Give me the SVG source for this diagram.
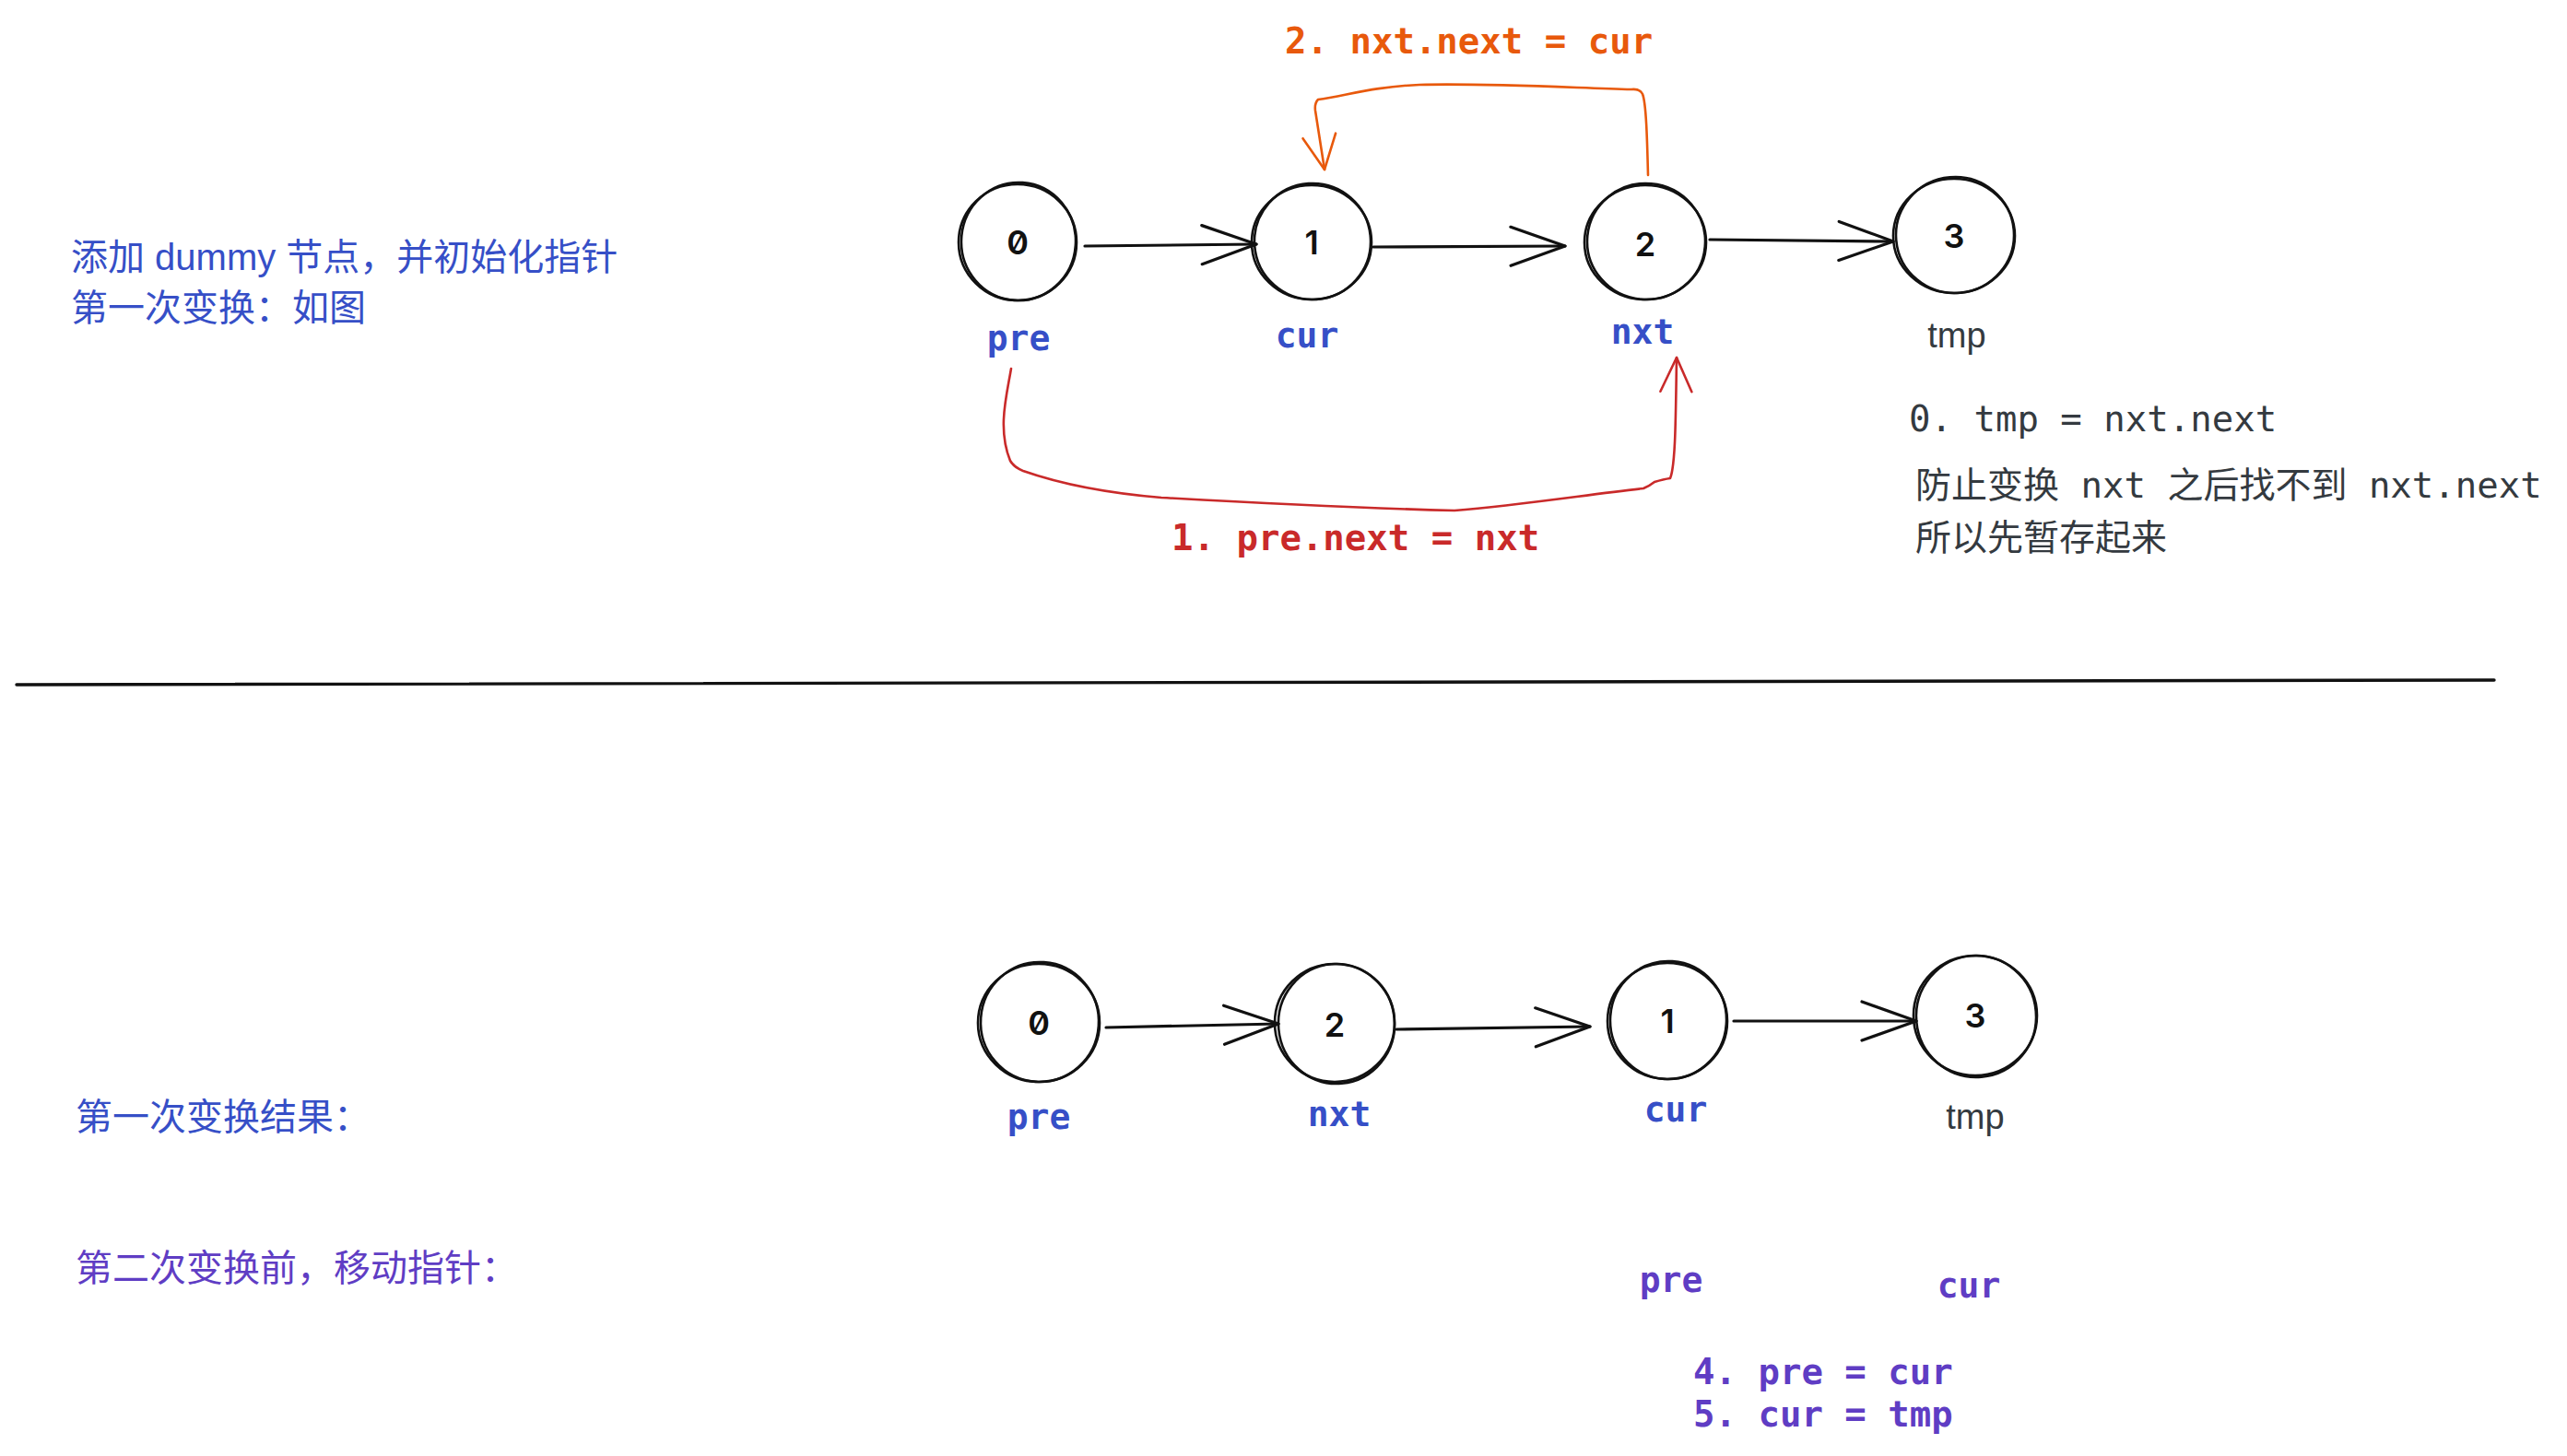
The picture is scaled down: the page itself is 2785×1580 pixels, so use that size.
<svg xmlns="http://www.w3.org/2000/svg" width="2785" height="1580" viewBox="0 0 2785 1580">
<defs>
<style>
.bg{fill:#ffffff}
.ring{fill:none;stroke:#111;stroke-width:2.6}
.digit{font-family:Inter,"Liberation Sans",sans-serif;font-size:36px;font-weight:600;fill:#111;text-anchor:middle;font-variant-numeric:slashed-zero;font-feature-settings:"zero"}
.mono{font-family:"DejaVu Sans Mono","Noto Sans CJK SC",monospace}
.sans{font-family:"Liberation Sans","Noto Sans CJK SC",sans-serif}
.b{font-weight:bold}
.lbl{font-size:38px;text-anchor:middle}
.blue{fill:#364fc7}
.violet{fill:#5f3dc4}
.gray{fill:#343a40}
.orange{fill:#e8590c}
.red{fill:#c92a2a}
.edge{fill:none;stroke:#111;stroke-width:3.2;stroke-linecap:round;marker-end:url(#headK)}
.edgeO{fill:none;stroke:#e8590c;stroke-width:2.6;stroke-linecap:round;stroke-linejoin:round;marker-end:url(#headO)}
.edgeR{fill:none;stroke:#c92a2a;stroke-width:2.6;stroke-linecap:round;stroke-linejoin:round;marker-end:url(#headR)}
</style>
<marker id="headK" markerUnits="userSpaceOnUse" viewBox="0 0 64 50" markerWidth="64" markerHeight="50" refX="61" refY="25" orient="auto">
<path d="M2,4 L61,25 L2,46" fill="none" stroke="#111" stroke-width="3.2" stroke-linecap="round" stroke-linejoin="round"/>
</marker>
<marker id="headO" markerUnits="userSpaceOnUse" viewBox="0 0 44 44" markerWidth="44" markerHeight="44" refX="40" refY="22" orient="auto">
<path d="M3,4 L40,22 L3,40" fill="none" stroke="#e8590c" stroke-width="2.6" stroke-linecap="round" stroke-linejoin="round"/>
</marker>
<marker id="headR" markerUnits="userSpaceOnUse" viewBox="0 0 44 44" markerWidth="44" markerHeight="44" refX="40" refY="22" orient="auto">
<path d="M3,5 L40,22 L3,39" fill="none" stroke="#c92a2a" stroke-width="2.6" stroke-linecap="round" stroke-linejoin="round"/>
</marker>
</defs>
<rect class="bg" x="0" y="0" width="2785" height="1580"/>

<g id="notes">
<text class="sans blue" x="77" y="293" font-size="40">添加 dummy 节点，并初始化指针</text>
<text class="sans blue" x="77" y="348" font-size="40">第一次变换：如图</text>
<text class="mono b orange" x="1394" y="58" font-size="39">2. nxt.next = cur</text>
<text class="mono b red" x="1271" y="597" font-size="39">1. pre.next = nxt</text>
<text class="mono gray" x="2071" y="468" font-size="39">0. tmp = nxt.next</text>
<text class="mono gray" x="2078" y="540" font-size="39">防止变换 nxt 之后找不到 nxt.next</text>
<text class="mono gray" x="2078" y="597" font-size="39">所以先暂存起来</text>
<text class="sans blue" x="82" y="1226" font-size="40">第一次变换结果：</text>
<text class="sans violet" x="82" y="1390" font-size="40">第二次变换前，移动指针：</text>
<text class="mono b violet lbl" x="1813" y="1402">pre</text>
<text class="mono b violet lbl" x="2136" y="1408">cur</text>
<text class="mono b violet" x="1837" y="1502" font-size="39">4. pre = cur</text>
<text class="mono b violet" x="1837" y="1548" font-size="39">5. cur = tmp</text>
</g>

<g id="divider">
<path d="M18,743 L2706,738" fill="none" stroke="#111" stroke-width="3.4" stroke-linecap="round"/>
</g>

<g id="node-top-0">
<ellipse class="ring" cx="1104" cy="263" rx="64" ry="63"/>
<ellipse class="ring" cx="1105" cy="262" rx="62" ry="64" transform="rotate(4 1105 262)"/>
<text class="digit" x="1104" y="276">0</text>
<text class="mono b blue lbl" x="1105" y="380">pre</text>
</g>
<g id="node-top-1">
<ellipse class="ring" cx="1423" cy="263" rx="65" ry="62"/>
<ellipse class="ring" cx="1424" cy="262" rx="63" ry="63" transform="rotate(-4 1424 262)"/>
<text class="digit" x="1423" y="276">1</text>
<text class="mono b blue lbl" x="1418" y="377">cur</text>
</g>
<g id="node-top-2">
<ellipse class="ring" cx="1785" cy="263" rx="66" ry="62"/>
<ellipse class="ring" cx="1786" cy="262" rx="64" ry="63" transform="rotate(5 1786 262)"/>
<text class="digit" x="1785" y="278">2</text>
<text class="mono b blue lbl" x="1782" y="373">nxt</text>
</g>
<g id="node-top-3">
<ellipse class="ring" cx="2120" cy="256" rx="66" ry="62"/>
<ellipse class="ring" cx="2121" cy="255" rx="64" ry="63" transform="rotate(-5 2121 255)"/>
<text class="digit" x="2120" y="269">3</text>
<text class="sans gray lbl" x="2123" y="377" font-size="40">tmp</text>
</g>

<g id="node-bot-0">
<ellipse class="ring" cx="1127" cy="1110" rx="66" ry="64"/>
<ellipse class="ring" cx="1128" cy="1109" rx="64" ry="65" transform="rotate(4 1128 1109)"/>
<text class="digit" x="1127" y="1123">0</text>
<text class="mono b blue lbl" x="1127" y="1225">pre</text>
</g>
<g id="node-bot-2">
<ellipse class="ring" cx="1448" cy="1110" rx="65" ry="64"/>
<ellipse class="ring" cx="1450" cy="1111" rx="63" ry="65" transform="rotate(-5 1450 1111)"/>
<text class="digit" x="1448" y="1125">2</text>
<text class="mono b blue lbl" x="1453" y="1222">nxt</text>
</g>
<g id="node-bot-1">
<ellipse class="ring" cx="1809" cy="1108" rx="65" ry="63"/>
<ellipse class="ring" cx="1810" cy="1107" rx="63" ry="64" transform="rotate(4 1810 1107)"/>
<text class="digit" x="1809" y="1121">1</text>
<text class="mono b blue lbl" x="1818" y="1217">cur</text>
</g>
<g id="node-bot-3">
<ellipse class="ring" cx="2143" cy="1102" rx="67" ry="65"/>
<ellipse class="ring" cx="2144" cy="1103" rx="65" ry="66" transform="rotate(-5 2144 1103)"/>
<text class="digit" x="2143" y="1115">3</text>
<text class="sans gray lbl" x="2143" y="1225" font-size="40">tmp</text>
</g>

<g id="connectors">
<path class="edge" d="M1177,267 L1363,265"/>
<path class="edge" d="M1490,268 L1698,267"/>
<path class="edge" d="M1855,260 L2054,262"/>
<path class="edge" d="M1200,1115 L1387,1111"/>
<path class="edge" d="M1515,1117 L1725,1114"/>
<path class="edge" d="M1881,1108 L2079,1108"/>
<path class="edgeO" d="M1788,190 C1787,150 1786,112 1782,102 Q1779,96 1770,97 C1700,95 1610,90 1540,92 C1490,94 1460,104 1430,108 Q1426,112 1427,120 L1437,184"/>
<path class="edgeR" d="M1097,400 C1092,430 1082,465 1096,500 Q1100,507 1110,511 C1150,525 1200,535 1260,540 C1400,548 1500,552 1578,554 C1650,548 1720,537 1783,530 Q1790,527 1795,523 Q1805,520 1812,519 C1818,505 1818,450 1819,388"/>
</g>
</svg>
